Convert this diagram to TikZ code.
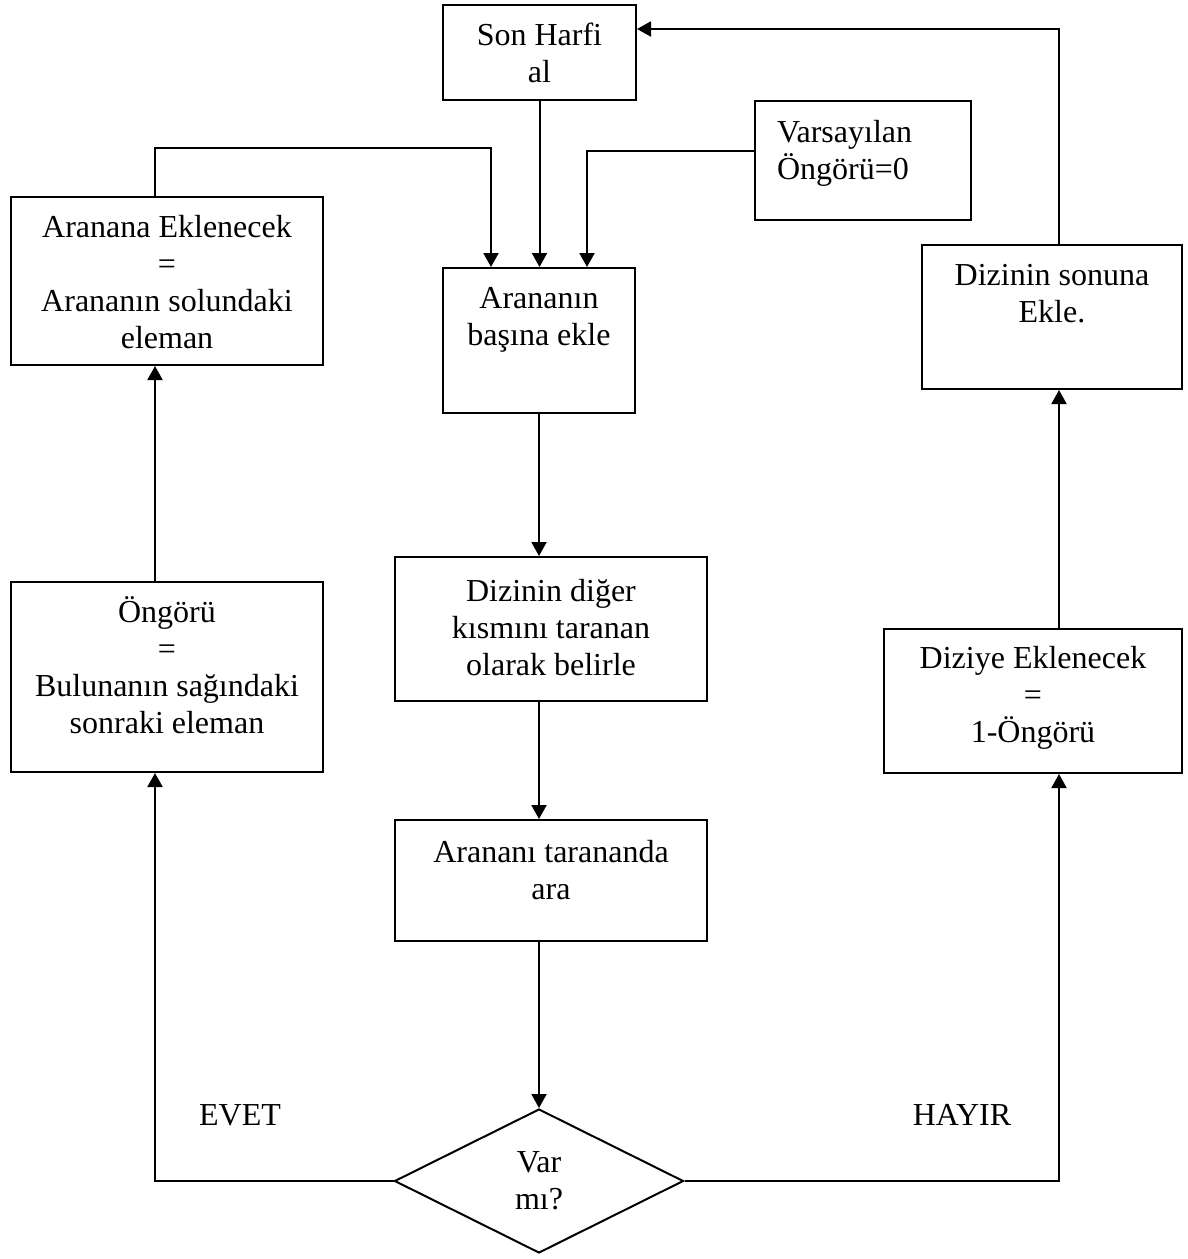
\documentclass[tikz,border=0pt]{standalone}
\usepackage{fontspec}
\setmainfont{Liberation Serif}
\usetikzlibrary{arrows.meta,positioning,shapes.geometric,calc}

% text set from the top of a box of fixed size: [first baseline]{height}{width}{text}
\newcommand{\boxtext}[4][20pt]{\parbox[c][#2][t]{#3}{\centering\rule{0pt}{#1}#4}}

\begin{document}
\begin{tikzpicture}[
        x=0.5pt, y=-0.5pt,
        font=\fontsize{16pt}{18.5pt}\selectfont,
        stepbox/.style={draw, line width=1pt, inner sep=0pt},
        decision/.style={
            draw, diamond, line width=1pt, inner sep=0pt,
            minimum width=144.5pt, minimum height=72pt,
            align=center
        },
        flow/.style={-{Triangle[length=7pt,width=7.5pt]}, line width=1pt},
        plain/.style={line width=1pt}
    ]
    \useasboundingbox (0,0) rectangle (1188,1259);

    % Boxes
    \node[stepbox] (son)     at (539.5,52.5) {\boxtext{47.5pt}{96.5pt}{Son Harfi\\al}};
    \node[stepbox] (vars)    at (863,160.5)
        {\parbox[c][59.5pt][t]{108pt}{\raggedright\leftskip=11pt\rule{0pt}{20.5pt}Varsayılan\\Öngörü=0}};
    \node[stepbox] (aranana) at (167,281)    {\boxtext{84pt}{156pt}{Aranana Eklenecek\\=\\Arananın solundaki\\eleman}};
    \node[stepbox] (basina)  at (539,340.5)  {\boxtext{72.5pt}{96pt}{Arananın\\başına ekle}};
    \node[stepbox] (sonuna)  at (1052,317)   {\boxtext{72pt}{130pt}{Dizinin sonuna\\Ekle.}};
    \node[stepbox] (diger)   at (551,629)    {\boxtext[22pt]{72pt}{156pt}{Dizinin diğer\\kısmını taranan\\olarak belirle}};
    \node[stepbox] (ongoru)  at (167,677)    {\boxtext{95pt}{156pt}{Öngörü\\=\\Bulunanın sağındaki\\sonraki eleman}};
    \node[stepbox] (diziye)  at (1033,701)   {\boxtext[19.5pt]{72pt}{149pt}{Diziye Eklenecek\\=\\1-Öngörü}};
    \node[stepbox] (ara)     at (551,880.5)  {\boxtext[21pt]{60.5pt}{156pt}{Arananı tarananda\\ara}};

    % Decision
    \node[decision] (varmi) at (539,1181) {Var\\mı?};

    % Branch labels
    \node (evet)  at (240,1115) {EVET};
    \node (hayir) at (962,1115) {HAYIR};

    % Main column
    \draw[flow] (son.south) -- (son.south |- basina.north);
    \draw[flow] (basina.south) -- (basina.south |- diger.north);
    \draw[flow] (basina.south |- diger.south) -- (basina.south |- ara.north);
    \draw[flow] (basina.south |- ara.south) -- (varmi.north);

    % Into "Arananın başına ekle" from both sides
    \draw[flow] ([xshift=-6pt]aranana.north) -- ++(0,-48) -| ([xshift=-24pt]basina.north);
    \draw[flow] ([yshift=5pt]vars.west) -| ([xshift=24pt]basina.north);

    % EVET branch
    \draw[flow] (varmi.west) -| ([xshift=-6pt]ongoru.south);
    \draw[flow] ([xshift=-6pt]ongoru.north) -- ([xshift=-6pt]aranana.south);

    % HAYIR branch
    \draw[flow] (varmi.east) -| ([xshift=13pt]diziye.south);
    \draw[flow] ([xshift=13pt]diziye.north) -- ([xshift=13pt]diziye.north |- sonuna.south);
    \draw[flow] ([xshift=13pt]diziye.north |- sonuna.north) |- ([yshift=11.75pt]son.east);

\end{tikzpicture}
\end{document}
